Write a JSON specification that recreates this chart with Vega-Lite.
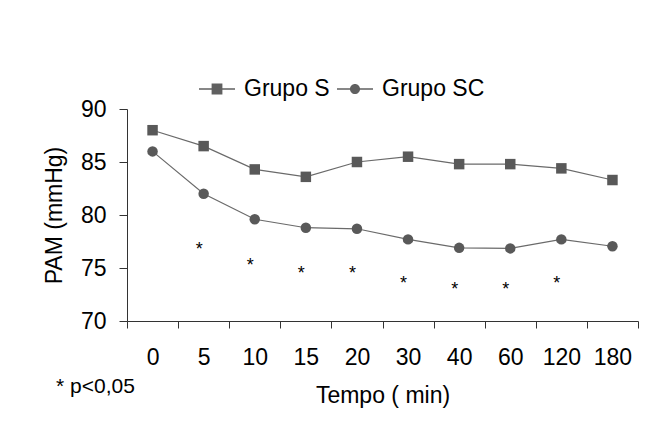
{
  "$schema": "https://vega.github.io/schema/vega-lite/v6.json",
  "width": 511,
  "height": 212,
  "autosize": "none",
  "padding": {"left": 127, "top": 109, "right": 13, "bottom": 120},
  "background": "white",
  "config": {"view": {"stroke": null}, "font": "Liberation Sans"},
  "title": {"text": "* p<0,05", "orient": "bottom", "anchor": "start", "frame": "group", "fontSize": 21, "fontWeight": "normal", "color": "black", "offset": 0, "dx": -71, "dy": -31},
  "datasets": {
    "pam": [
      {"t": "0", "grupo": "Grupo S", "pam": 88.0},
      {"t": "5", "grupo": "Grupo S", "pam": 86.5},
      {"t": "10", "grupo": "Grupo S", "pam": 84.3},
      {"t": "15", "grupo": "Grupo S", "pam": 83.6},
      {"t": "20", "grupo": "Grupo S", "pam": 85.0},
      {"t": "30", "grupo": "Grupo S", "pam": 85.5},
      {"t": "40", "grupo": "Grupo S", "pam": 84.8},
      {"t": "60", "grupo": "Grupo S", "pam": 84.8},
      {"t": "120", "grupo": "Grupo S", "pam": 84.4},
      {"t": "180", "grupo": "Grupo S", "pam": 83.3},
      {"t": "0", "grupo": "Grupo SC", "pam": 86.0},
      {"t": "5", "grupo": "Grupo SC", "pam": 82.0},
      {"t": "10", "grupo": "Grupo SC", "pam": 79.6},
      {"t": "15", "grupo": "Grupo SC", "pam": 78.8},
      {"t": "20", "grupo": "Grupo SC", "pam": 78.7},
      {"t": "30", "grupo": "Grupo SC", "pam": 77.7},
      {"t": "40", "grupo": "Grupo SC", "pam": 76.9},
      {"t": "60", "grupo": "Grupo SC", "pam": 76.85},
      {"t": "120", "grupo": "Grupo SC", "pam": 77.7},
      {"t": "180", "grupo": "Grupo SC", "pam": 77.05}
    ],
    "sig": [
      {"t": "5", "y": 77.0},
      {"t": "10", "y": 75.5},
      {"t": "15", "y": 74.7},
      {"t": "20", "y": 74.7},
      {"t": "30", "y": 73.8},
      {"t": "40", "y": 73.2},
      {"t": "60", "y": 73.2},
      {"t": "120", "y": 73.8}
    ]
  },
  "resolve": {"scale": {"shape": "independent"}, "legend": {"shape": "independent"}},
  "layer": [
    {
      "data": {"name": "pam"},
      "mark": {"type": "line", "color": "#6a6a6a", "strokeWidth": 1.2},
      "encoding": {
        "x": {
          "field": "t", "type": "ordinal", "bandPosition": 0.5,
          "scale": {"type": "band", "paddingInner": 0, "paddingOuter": 0, "domain": ["0", "5", "10", "15", "20", "30", "40", "60", "120", "180"]},
          "axis": {"title": "Tempo ( min)", "labelAngle": 0, "tickBand": "extent", "tickSize": 7, "labelPadding": 18, "titlePadding": 15, "labelFontSize": 23, "titleFontSize": 23, "titleFontWeight": "normal", "domainColor": "#333", "tickColor": "#333", "labelColor": "black", "titleColor": "black", "grid": false}
        },
        "y": {
          "field": "pam", "type": "quantitative",
          "scale": {"domain": [70, 90], "nice": false, "zero": false},
          "axis": {"title": "PAM (mmHg)", "values": [70, 75, 80, 85, 90], "tickSize": 8, "labelPadding": 13, "titlePadding": 14, "labelFontSize": 23, "titleFontSize": 23, "titleFontWeight": "normal", "domainColor": "#333", "tickColor": "#333", "labelColor": "black", "titleColor": "black", "grid": false}
        },
        "detail": {"field": "grupo"}
      }
    },
    {
      "data": {"name": "pam"},
      "mark": {"type": "point", "filled": true, "size": 110, "color": "#595959", "opacity": 1},
      "encoding": {
        "x": {"field": "t", "type": "ordinal", "bandPosition": 0.5},
        "y": {"field": "pam", "type": "quantitative"},
        "shape": {
          "field": "grupo", "type": "nominal",
          "scale": {"domain": ["Grupo S", "Grupo SC"], "range": ["square", "circle"]},
          "legend": null
        }
      }
    },
    {
      "data": {"name": "pam"},
      "mark": {"type": "point", "filled": true, "color": "#606060", "opacity": 0},
      "encoding": {
        "x": {"field": "t", "type": "ordinal", "bandPosition": 0.5},
        "y": {"field": "pam", "type": "quantitative"},
        "shape": {
          "field": "grupo", "type": "nominal",
          "scale": {"domain": ["Grupo S", "Grupo SC"], "range": ["M-1,-0.035L1,-0.035L1,0.035L-1,0.035ZM-0.3,-0.3L0.3,-0.3L0.3,0.3L-0.3,0.3Z", "M-1,-0.035L1,-0.035L1,0.035L-1,0.035ZM0.28,0A0.28,0.28,0,1,1,-0.28,0A0.28,0.28,0,1,1,0.28,0Z"]},
          "legend": {
            "title": null, "orient": "none", "legendX": 71, "legendY": -39, "direction": "horizontal",
            "labelFontSize": 23, "labelColor": "black", "labelOffset": 8, "columnPadding": 4, "padding": 0,
            "symbolSize": 1296, "symbolOpacity": 1
          }
        }
      }
    },
    {
      "data": {"name": "sig"},
      "mark": {"type": "text", "text": "*", "fontSize": 18, "dx": -4.5, "dy": 3, "baseline": "middle", "color": "black"},
      "encoding": {
        "x": {"field": "t", "type": "ordinal", "bandPosition": 0.5},
        "y": {"field": "y", "type": "quantitative"}
      }
    }
  ]
}
